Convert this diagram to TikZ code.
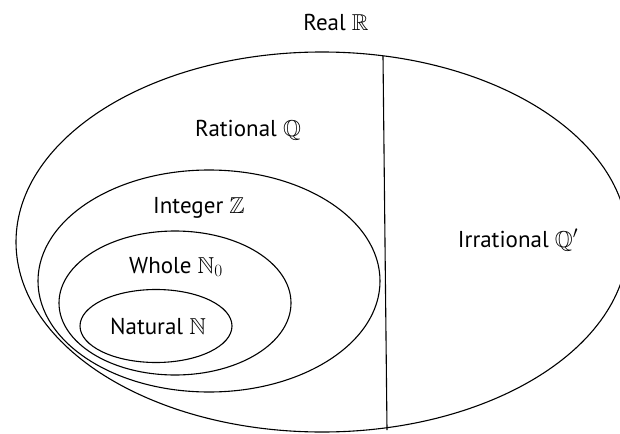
\documentclass[tikz,border=0pt]{standalone}
\usepackage{amssymb}
\usepackage{fontspec}
\setmainfont{PT Sans}
\begin{document}
\begin{tikzpicture}[x=1pt,y=-1pt,
  setline/.style={line width=1.1pt},
  lbl/.style={font=\fontsize{23}{27}\selectfont, inner sep=0pt}]
\useasboundingbox (0,0) rectangle (620,433);
% outer (real) ellipse
\draw[setline] (322,242) ellipse [x radius=306, y radius=190];
% divider rational / irrational
\coordinate (divtop) at (383,56);
\coordinate (divbot) at (387,430);
\draw[setline] (divtop) -- (divbot);
% nested sets
\draw[setline] (209,281) ellipse [x radius=171, y radius=111];
\draw[setline] (175,303) ellipse [x radius=116, y radius=72];
\draw[setline] (156,326) ellipse [x radius=76, y radius=36.5];
% labels
\node[lbl] (real) at (336,22) {Real $\mathbb{R}$};
\node[lbl] (rational) at (248,130) {Rational $\mathbb{Q}$};
\node[lbl] (integer) at (199,208) {Integer $\mathbb{Z}$};
\node[lbl] (whole) at (176,267) {Whole $\mathbb{N}_0$};
\node[lbl] (natural) at (158,326) {Natural $\mathbb{N}$};
\node[lbl] (irrational) at (518,240) {Irrational $\mathbb{Q}'$};
\end{tikzpicture}
\end{document}
